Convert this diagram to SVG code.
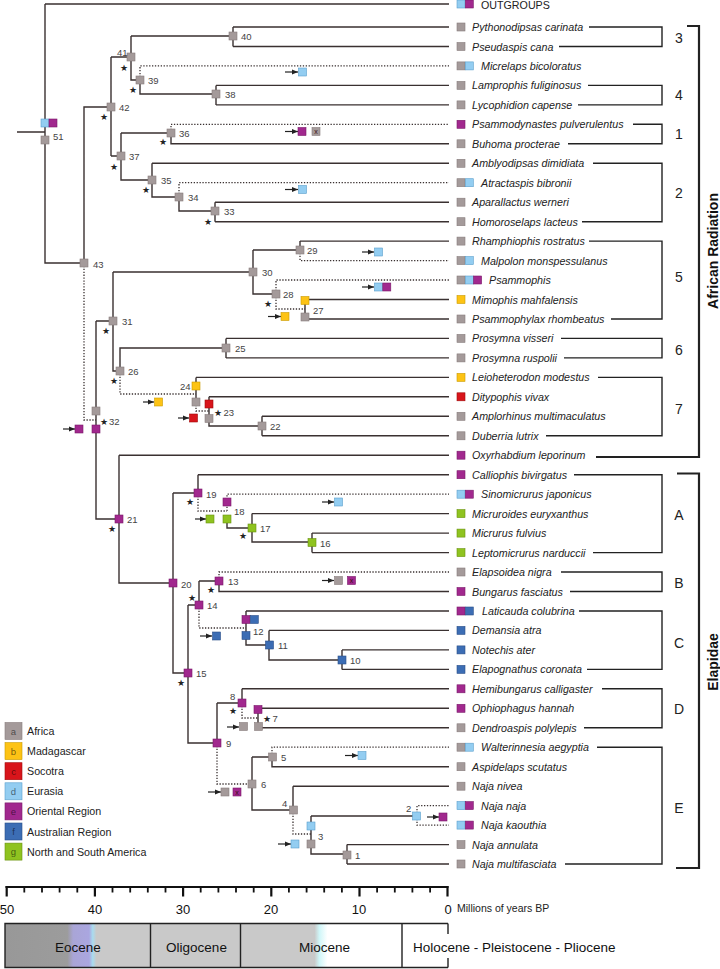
<svg xmlns="http://www.w3.org/2000/svg" width="720" height="969" viewBox="0 0 720 969">
<defs>
<style>
.l{fill:none;stroke:#3a3131;stroke-width:1.4}
.d{fill:none;stroke:#3a3131;stroke-width:1.3;stroke-dasharray:1.3 1.6}
.ar{fill:none;stroke:#222;stroke-width:1.2;marker-end:url(#ah)}
rect{stroke-width:0.6}
.a{fill:#a49a9a;stroke:#877c7c}
.b{fill:#fdc315;stroke:#c99a00}
.c{fill:#d8151b;stroke:#a00a0a}
.e1{fill:#93cdf1;stroke:#5a9fcc}
.e{fill:#a1288e;stroke:#7a1a6a}
.f{fill:#3c6db4;stroke:#2a4f88}
.g{fill:#8fc320;stroke:#6a9210}
.tx{font-family:"Liberation Sans",Arial,sans-serif;font-size:10.7px;font-style:italic;fill:#222}
.og{font-family:"Liberation Sans",Arial,sans-serif;font-size:10.7px;fill:#222}
.nl{font-family:"Liberation Sans",Arial,sans-serif;font-size:9.5px;fill:#444}
.st{font-family:"DejaVu Sans",sans-serif;font-size:9px;fill:#222;text-anchor:middle}
.xm{font-family:"Liberation Sans",Arial,sans-serif;font-size:7px;fill:#3a1010;text-anchor:middle}
.bk{fill:none;stroke:#222;stroke-width:1.4}
.bb{fill:none;stroke:#222;stroke-width:2.2}
.cl{font-family:"Liberation Sans",Arial,sans-serif;font-size:14px;fill:#222;text-anchor:middle}
.gl{font-family:"Liberation Sans",Arial,sans-serif;font-size:14px;font-weight:bold;fill:#111;text-anchor:middle}
.lg{font-family:"Liberation Sans",Arial,sans-serif;font-size:10.7px;fill:#222}
.ll{font-family:"Liberation Sans",Arial,sans-serif;font-size:9.5px;fill:#000;fill-opacity:0.55;text-anchor:middle}
.ax{font-family:"Liberation Sans",Arial,sans-serif;font-size:13px;fill:#111;text-anchor:middle}
.ep{font-family:"Liberation Sans",Arial,sans-serif;font-size:13.5px;fill:#111;text-anchor:middle}
</style>
<marker id="ah" viewBox="0 0 6 6" refX="6" refY="3" markerWidth="6" markerHeight="6" markerUnits="userSpaceOnUse" orient="auto"><path d="M0,0.5 L6,3 L0,5.5 z" fill="#222"/></marker>
<linearGradient id="eoc" gradientUnits="userSpaceOnUse" x1="5" y1="0" x2="150" y2="0">
<stop offset="0" stop-color="#989898"/><stop offset="0.43" stop-color="#9c9c9c"/><stop offset="0.47" stop-color="#a9a5d6"/><stop offset="0.58" stop-color="#aaa6e0"/><stop offset="0.605" stop-color="#a9dcef"/><stop offset="0.63" stop-color="#c9c9c9"/><stop offset="1" stop-color="#c9c9c9"/>
</linearGradient>
<linearGradient id="mio" gradientUnits="userSpaceOnUse" x1="240" y1="0" x2="402" y2="0">
<stop offset="0" stop-color="#c9c9c9"/><stop offset="0.46" stop-color="#c9c9c9"/><stop offset="0.49" stop-color="#cff6f8"/><stop offset="0.54" stop-color="#ffffff"/><stop offset="1" stop-color="#ffffff"/>
</linearGradient>
</defs>
<rect x="0" y="0" width="720" height="969" fill="#ffffff" stroke="none"/>

<g id="connectors">
<path class="l" d="M17 132H45 M45 4V263H84 M45 4H449 M84 263V107H111 M111 57V156 M111 57H131 M131 36V80H140 M131 36H233 M233 27V46.5 M233 27H449 M233 46.5H449 M140 80V94H216 M216 85.4V104.9 M216 85.4H449 M216 104.9H449 M111 156H121 M121 133V180H152 M121 133H171 M171 133V143.8H449 M152 163.3V197H179 M152 163.3H449 M179 197V211H215 M215 202.2V221.7 M215 202.2H449 M215 221.7H449 M96 321V519H119 M96 321H113 M113 272V371H120 M113 272H253 M253 250V294H276 M253 250H300 M300 241.1V250 M300 241.1H449 M305 299.5V319 M305 299.5H449 M305 319H449 M120 371V348H226 M226 338.4V357.9 M226 338.4H449 M226 357.9H449 M196 377.4V402 M196 377.4H449 M209 396.8V426H262 M209 396.8H449 M262 416.3V435.8 M262 416.3H449 M262 435.8H449 M119 455.2V583H173 M119 455.2H449 M173 493V673H188 M173 493H198 M198 474.7V493 M198 474.7H449 M227 519V528H252 M252 513.6V542H312 M252 513.6H449 M312 533.1V552.6 M312 533.1H449 M312 552.6H449 M188 605V743H217 M188 605H199 M199 581V605 M199 581H219 M219 581V591.5H449 M246 611V645H269 M246 611H449 M269 630.4V660H342 M269 630.4H449 M342 649.9V669.4 M342 649.9H449 M342 669.4H449 M217 703V743 M217 703H242 M242 688.8V703 M242 688.8H449 M258 708.3V727.8 M258 708.3H449 M258 727.8H449 M252 757V810H293 M252 757H272 M272 757V766.7H449 M293 786.2V810 M293 786.2H449 M311 816V854H347 M311 816H417 M347 844.6V864 M347 844.6H449 M347 864H449"/>
<path class="d" d="M84 263V420H96 M140 80V65.9H449 M171 133V124.3H449 M179 197V182.7H449 M300 250V260.6H449 M276 294V280H449 M276 294V309H305 M120 371V394H196 M196 402V411H209 M198 493V511H227 M227 511V494.2H449 M219 581V572H449 M199 605V628H246 M217 743V784H252 M242 703V718H258 M272 757V747.2H449 M293 810V834H311 M417 816V805.6H449 M417 816V825.1H449"/>
</g>

<g id="tips">
<g id="t-outgroups"><rect class="e1" x="457" y="0" width="8" height="8"/><rect class="e" x="465.3" y="0" width="8" height="8"/><text class="og" x="481" y="9">OUTGROUPS</text></g>
<g id="t-pythonodipsas"><rect class="a" x="457" y="23" width="8" height="8"/><text class="tx" x="472" y="31">Pythonodipsas carinata</text></g>
<g id="t-pseudaspis"><rect class="a" x="457" y="42.5" width="8" height="8"/><text class="tx" x="472" y="50.5">Pseudaspis cana</text></g>
<g id="t-micrelaps"><rect class="a" x="457" y="61.9" width="8" height="8"/><rect class="e1" x="465.3" y="61.9" width="8" height="8"/><text class="tx" x="481" y="69.9">Micrelaps bicoloratus</text></g>
<g id="t-lamprophis"><rect class="a" x="457" y="81.4" width="8" height="8"/><text class="tx" x="472" y="89.4">Lamprophis fuliginosus</text></g>
<g id="t-lycophidion"><rect class="a" x="457" y="100.9" width="8" height="8"/><text class="tx" x="472" y="108.9">Lycophidion capense</text></g>
<g id="t-psammodynastes"><rect class="e" x="457" y="120.3" width="8" height="8"/><text class="tx" x="472" y="128.3">Psammodynastes pulverulentus</text></g>
<g id="t-buhoma"><rect class="a" x="457" y="139.8" width="8" height="8"/><text class="tx" x="472" y="147.8">Buhoma procterae</text></g>
<g id="t-amblyodipsas"><rect class="a" x="457" y="159.3" width="8" height="8"/><text class="tx" x="472" y="167.3">Amblyodipsas dimidiata</text></g>
<g id="t-atractaspis"><rect class="a" x="457" y="178.7" width="8" height="8"/><rect class="e1" x="465.3" y="178.7" width="8" height="8"/><text class="tx" x="481" y="186.7">Atractaspis bibronii</text></g>
<g id="t-aparallactus"><rect class="a" x="457" y="198.2" width="8" height="8"/><text class="tx" x="472" y="206.2">Aparallactus werneri</text></g>
<g id="t-homoroselaps"><rect class="a" x="457" y="217.7" width="8" height="8"/><text class="tx" x="472" y="225.7">Homoroselaps lacteus</text></g>
<g id="t-rhamphiophis"><rect class="a" x="457" y="237.1" width="8" height="8"/><text class="tx" x="472" y="245.1">Rhamphiophis rostratus</text></g>
<g id="t-malpolon"><rect class="a" x="457" y="256.6" width="8" height="8"/><rect class="e1" x="465.3" y="256.6" width="8" height="8"/><text class="tx" x="481" y="264.6">Malpolon monspessulanus</text></g>
<g id="t-psammophis"><rect class="a" x="457" y="276" width="8" height="8"/><rect class="e1" x="465.3" y="276" width="8" height="8"/><rect class="e" x="473.6" y="276" width="8" height="8"/><text class="tx" x="489" y="284">Psammophis</text></g>
<g id="t-mimophis"><rect class="b" x="457" y="295.5" width="8" height="8"/><text class="tx" x="472" y="303.5">Mimophis mahfalensis</text></g>
<g id="t-psammophylax"><rect class="a" x="457" y="315" width="8" height="8"/><text class="tx" x="472" y="323">Psammophylax rhombeatus</text></g>
<g id="t-prosymna-v"><rect class="a" x="457" y="334.4" width="8" height="8"/><text class="tx" x="472" y="342.4">Prosymna visseri</text></g>
<g id="t-prosymna-r"><rect class="a" x="457" y="353.9" width="8" height="8"/><text class="tx" x="472" y="361.9">Prosymna ruspolii</text></g>
<g id="t-leioheterodon"><rect class="b" x="457" y="373.4" width="8" height="8"/><text class="tx" x="472" y="381.4">Leioheterodon modestus</text></g>
<g id="t-ditypophis"><rect class="c" x="457" y="392.8" width="8" height="8"/><text class="tx" x="472" y="400.8">Ditypophis vivax</text></g>
<g id="t-amplorhinus"><rect class="a" x="457" y="412.3" width="8" height="8"/><text class="tx" x="472" y="420.3">Amplorhinus multimaculatus</text></g>
<g id="t-duberria"><rect class="a" x="457" y="431.8" width="8" height="8"/><text class="tx" x="472" y="439.8">Duberria lutrix</text></g>
<g id="t-oxyrhabdium"><rect class="e" x="457" y="451.2" width="8" height="8"/><text class="tx" x="472" y="459.2">Oxyrhabdium leporinum</text></g>
<g id="t-calliophis"><rect class="e" x="457" y="470.7" width="8" height="8"/><text class="tx" x="472" y="478.7">Calliophis bivirgatus</text></g>
<g id="t-sinomicrurus"><rect class="e1" x="457" y="490.2" width="8" height="8"/><rect class="e" x="465.3" y="490.2" width="8" height="8"/><text class="tx" x="481" y="498.2">Sinomicrurus japonicus</text></g>
<g id="t-micruroides"><rect class="g" x="457" y="509.6" width="8" height="8"/><text class="tx" x="472" y="517.6">Micruroides euryxanthus</text></g>
<g id="t-micrurus"><rect class="g" x="457" y="529.1" width="8" height="8"/><text class="tx" x="472" y="537.1">Micrurus fulvius</text></g>
<g id="t-leptomicrurus"><rect class="g" x="457" y="548.6" width="8" height="8"/><text class="tx" x="472" y="556.6">Leptomicrurus narduccii</text></g>
<g id="t-elapsoidea"><rect class="a" x="457" y="568" width="8" height="8"/><text class="tx" x="472" y="576">Elapsoidea nigra</text></g>
<g id="t-bungarus"><rect class="e" x="457" y="587.5" width="8" height="8"/><text class="tx" x="472" y="595.5">Bungarus fasciatus</text></g>
<g id="t-laticauda"><rect class="e" x="457" y="607" width="8" height="8"/><rect class="f" x="465.3" y="607" width="8" height="8"/><text class="tx" x="482" y="615">Laticauda colubrina</text></g>
<g id="t-demansia"><rect class="f" x="457" y="626.4" width="8" height="8"/><text class="tx" x="472" y="634.4">Demansia atra</text></g>
<g id="t-notechis"><rect class="f" x="457" y="645.9" width="8" height="8"/><text class="tx" x="472" y="653.9">Notechis ater</text></g>
<g id="t-elapognathus"><rect class="f" x="457" y="665.4" width="8" height="8"/><text class="tx" x="472" y="673.4">Elapognathus coronata</text></g>
<g id="t-hemibungarus"><rect class="e" x="457" y="684.8" width="8" height="8"/><text class="tx" x="472" y="692.8">Hemibungarus calligaster</text></g>
<g id="t-ophiophagus"><rect class="e" x="457" y="704.3" width="8" height="8"/><text class="tx" x="472" y="712.3">Ophiophagus hannah</text></g>
<g id="t-dendroaspis"><rect class="a" x="457" y="723.8" width="8" height="8"/><text class="tx" x="472" y="731.8">Dendroaspis polylepis</text></g>
<g id="t-walterinnesia"><rect class="a" x="457" y="743.2" width="8" height="8"/><rect class="e1" x="465.3" y="743.2" width="8" height="8"/><text class="tx" x="481" y="751.2">Walterinnesia aegyptia</text></g>
<g id="t-aspidelaps"><rect class="a" x="457" y="762.7" width="8" height="8"/><text class="tx" x="472" y="770.7">Aspidelaps scutatus</text></g>
<g id="t-naja-nivea"><rect class="a" x="457" y="782.2" width="8" height="8"/><text class="tx" x="472" y="790.2">Naja nivea</text></g>
<g id="t-naja-naja"><rect class="e1" x="457" y="801.6" width="8" height="8"/><rect class="e" x="465.3" y="801.6" width="8" height="8"/><text class="tx" x="481" y="809.6">Naja naja</text></g>
<g id="t-naja-kaouthia"><rect class="e1" x="457" y="821.1" width="8" height="8"/><rect class="e" x="465.3" y="821.1" width="8" height="8"/><text class="tx" x="481" y="829.1">Naja kaouthia</text></g>
<g id="t-naja-annulata"><rect class="a" x="457" y="840.6" width="8" height="8"/><text class="tx" x="472" y="848.6">Naja annulata</text></g>
<g id="t-naja-multifasciata"><rect class="a" x="457" y="860" width="8" height="8"/><text class="tx" x="472" y="868">Naja multifasciata</text></g>
</g>

<g id="nodes">
<g id="n51"><rect class="e1" x="41" y="119" width="8" height="8"/><rect class="e" x="49" y="119" width="8" height="8"/><rect class="a" x="41" y="136" width="8" height="8"/><text class="nl" x="53" y="139.5">51</text></g>
<g id="n43"><rect class="a" x="80" y="259" width="8" height="8"/><text class="nl" x="93" y="268">43</text></g>
<g id="n42"><rect class="a" x="107" y="103" width="8" height="8"/><text class="nl" x="119" y="111">42</text><text class="st" x="104" y="119.5">★</text></g>
<g id="n41"><rect class="a" x="127" y="53" width="8" height="8"/><text class="nl" x="117" y="55.5">41</text><text class="st" x="124" y="70.5">★</text></g>
<g id="n40"><rect class="a" x="229" y="32" width="8" height="8"/><text class="nl" x="241" y="40">40</text></g>
<g id="n39"><rect class="a" x="136" y="76" width="8" height="8"/><text class="nl" x="148" y="84">39</text><text class="st" x="133" y="92.5">★</text><path class="ar" d="M285 72H298"/><rect class="e1" x="298.5" y="68" width="8" height="8"/></g>
<g id="n38"><rect class="a" x="212" y="90" width="8" height="8"/><text class="nl" x="225" y="98">38</text></g>
<g id="n37"><rect class="a" x="117" y="152" width="8" height="8"/><text class="nl" x="129" y="160">37</text><text class="st" x="114" y="169.5">★</text></g>
<g id="n36"><rect class="a" x="167" y="129" width="8" height="8"/><text class="nl" x="179" y="137">36</text><text class="st" x="163" y="144.5">★</text><path class="ar" d="M285 131.5H298"/><rect class="e" x="298" y="127.5" width="8" height="8"/><rect class="a" x="312" y="127.5" width="8" height="8"/><text class="xm" x="316" y="134">x</text></g>
<g id="n35"><rect class="a" x="148" y="176" width="8" height="8"/><text class="nl" x="161" y="184">35</text><text class="st" x="146" y="192.5">★</text></g>
<g id="n34"><rect class="a" x="175" y="193" width="8" height="8"/><text class="nl" x="188" y="201">34</text><path class="ar" d="M285 189.5H298"/><rect class="e1" x="298.5" y="185.5" width="8" height="8"/></g>
<g id="n33"><rect class="a" x="211" y="207" width="8" height="8"/><text class="nl" x="224" y="215">33</text><text class="st" x="208" y="224.5">★</text></g>
<g id="n32"><rect class="a" x="92" y="407" width="8" height="8"/><rect class="e" x="92" y="425" width="8" height="8"/><text class="st" x="104" y="424.5">★</text><text class="nl" x="109" y="424.5">32</text><path class="ar" d="M63 429H75"/><rect class="e" x="75" y="425" width="8" height="8"/></g>
<g id="n31"><rect class="a" x="109" y="317" width="8" height="8"/><text class="nl" x="122" y="325">31</text><text class="st" x="106" y="333.5">★</text></g>
<g id="n30"><rect class="a" x="249" y="268" width="8" height="8"/><text class="nl" x="262" y="276">30</text></g>
<g id="n29"><rect class="a" x="296" y="246" width="8" height="8"/><text class="nl" x="307" y="254">29</text><path class="ar" d="M362 252H374"/><rect class="e1" x="374.5" y="248" width="8" height="8"/></g>
<g id="n28"><rect class="a" x="272" y="290" width="8" height="8"/><text class="nl" x="283" y="297.5">28</text><text class="st" x="268" y="306.5">★</text><path class="ar" d="M362 287H374"/><rect class="e1" x="374.5" y="283" width="8" height="8"/><rect class="e" x="382.8" y="283" width="8" height="8"/><path class="ar" d="M268 316.5H281"/><rect class="b" x="281" y="312.5" width="8" height="8"/></g>
<g id="n27"><rect class="b" x="301" y="296.5" width="8" height="8"/><rect class="a" x="301" y="313" width="8" height="8"/><text class="nl" x="313" y="313.5">27</text></g>
<g id="n26"><rect class="a" x="116" y="367" width="8" height="8"/><text class="nl" x="128" y="375">26</text><text class="st" x="114" y="383.5">★</text></g>
<g id="n25"><rect class="a" x="222" y="344" width="8" height="8"/><text class="nl" x="235" y="352">25</text></g>
<g id="n24"><rect class="b" x="192" y="382" width="8" height="8"/><rect class="a" x="192" y="398" width="8" height="8"/><text class="nl" x="180" y="390">24</text><path class="ar" d="M143 402H154"/><rect class="b" x="154.5" y="398" width="8" height="8"/></g>
<g id="n23"><rect class="c" x="205" y="400" width="8" height="8"/><rect class="a" x="205" y="414.5" width="8" height="8"/><text class="st" x="218" y="415.5">★</text><text class="nl" x="223.5" y="415.5">23</text><path class="ar" d="M178 418H189"/><rect class="c" x="189.5" y="414" width="8" height="8"/></g>
<g id="n22"><rect class="a" x="258" y="422" width="8" height="8"/><text class="nl" x="270" y="430">22</text></g>
<g id="n21"><rect class="e" x="115" y="515" width="8" height="8"/><text class="nl" x="127" y="523">21</text><text class="st" x="112" y="531.5">★</text></g>
<g id="n20"><rect class="e" x="169" y="579" width="8" height="8"/><text class="nl" x="181" y="587.5">20</text></g>
<g id="n19"><rect class="e" x="194" y="489" width="8" height="8"/><text class="nl" x="206" y="497.5">19</text><text class="st" x="190" y="504.5">★</text></g>
<g id="n18"><rect class="e" x="223" y="498" width="8" height="8"/><rect class="g" x="223" y="515" width="8" height="8"/><text class="nl" x="234" y="515">18</text><path class="ar" d="M195 519H206"/><rect class="g" x="206" y="515" width="8" height="8"/><path class="ar" d="M322 502H334"/><rect class="e1" x="334.5" y="498" width="8" height="8"/></g>
<g id="n17"><rect class="g" x="248" y="524" width="8" height="8"/><text class="nl" x="260" y="531.5">17</text><text class="st" x="243" y="539">★</text></g>
<g id="n16"><rect class="g" x="308" y="538.5" width="8" height="8"/><text class="nl" x="320" y="546.5">16</text></g>
<g id="n15"><rect class="e" x="184" y="669" width="8" height="8"/><text class="nl" x="196" y="677">15</text><text class="st" x="181" y="685.5">★</text></g>
<g id="n14"><rect class="e" x="195" y="601" width="8" height="8"/><text class="nl" x="207" y="609">14</text><text class="st" x="192" y="600.5">★</text><path class="ar" d="M200 636H212"/><rect class="f" x="212.5" y="632" width="8" height="8"/></g>
<g id="n13"><rect class="e" x="215" y="577" width="8" height="8"/><text class="nl" x="228" y="585">13</text><text class="st" x="211" y="592.5">★</text><path class="ar" d="M322 580.5H334"/><rect class="a" x="334.5" y="576.5" width="8" height="8"/><rect class="e" x="347.5" y="576.5" width="8" height="8"/><text class="xm" x="351.5" y="583">x</text></g>
<g id="n12"><rect class="e" x="242" y="615.5" width="8" height="8"/><rect class="f" x="250.3" y="615.5" width="8" height="8"/><rect class="f" x="242" y="631.5" width="8" height="8"/><text class="nl" x="253" y="634.5">12</text></g>
<g id="n11"><rect class="f" x="265.5" y="641" width="8" height="8"/><text class="nl" x="278" y="649">11</text></g>
<g id="n10"><rect class="f" x="338" y="656" width="8" height="8"/><text class="nl" x="350" y="664">10</text></g>
<g id="n9"><rect class="e" x="213" y="739" width="8" height="8"/><text class="nl" x="226" y="747">9</text><path class="ar" d="M208 792H221"/><rect class="a" x="221" y="788" width="8" height="8"/><rect class="e" x="233" y="788" width="8" height="8"/><text class="xm" x="237" y="794.5">x</text></g>
<g id="n8"><rect class="e" x="238" y="699" width="8" height="8"/><text class="nl" x="230" y="700">8</text><text class="st" x="233" y="713.5">★</text><path class="ar" d="M227 727H239"/><rect class="a" x="239.5" y="722.5" width="8" height="8"/></g>
<g id="n7"><rect class="e" x="254" y="705.5" width="8" height="8"/><rect class="a" x="254.5" y="722.5" width="8" height="8"/><text class="st" x="267" y="721.5">★</text><text class="nl" x="272.5" y="721.5">7</text></g>
<g id="n6"><rect class="a" x="248" y="780" width="8" height="8"/><text class="nl" x="261" y="788">6</text></g>
<g id="n5"><rect class="a" x="268.5" y="753" width="8" height="8"/><text class="nl" x="281" y="761">5</text><path class="ar" d="M345 755.5H358"/><rect class="e1" x="358" y="751.5" width="8" height="8"/></g>
<g id="n4"><rect class="a" x="289.5" y="806" width="8" height="8"/><text class="nl" x="282" y="806.5">4</text><path class="ar" d="M278 844H291"/><rect class="e1" x="291" y="840" width="8" height="8"/></g>
<g id="n3"><rect class="e1" x="307" y="822" width="8" height="8"/><rect class="a" x="307" y="840" width="8" height="8"/><text class="nl" x="318" y="839.5">3</text></g>
<g id="n2"><rect class="e1" x="412.5" y="812" width="8" height="8"/><text class="nl" x="406" y="811.5">2</text><path class="ar" d="M427 817H439"/><rect class="e" x="439" y="813" width="8" height="8"/></g>
<g id="n1"><rect class="a" x="343" y="851" width="8" height="8"/><text class="nl" x="355" y="858.5">1</text></g>
</g>

<g id="brackets">
<path class="bk" d="M589 27H662V46.5H559 M588 85.4H662V104.9H578 M633 124.3H662V143.8H568 M593 163.3H662V221.7H582 M589 241.1H662V319H611 M561 338.4H662V357.9H564 M598 377.4H662V435.8H546 M574 474.7H662V552.6H593 M561 572H662V591.5H570 M579 611H662V669.4H587 M602 688.8H662V727.8H584 M597 747.2H662V864H565"/>
<path class="bb" d="M687 26H699V457H596 M677 473.5H699V868H676"/>
<text class="cl" x="679" y="43">3</text>
<text class="cl" x="679" y="100">4</text>
<text class="cl" x="679" y="139">1</text>
<text class="cl" x="679" y="198">2</text>
<text class="cl" x="679" y="282">5</text>
<text class="cl" x="679" y="355">6</text>
<text class="cl" x="679" y="414">7</text>
<text class="cl" x="679" y="520">A</text>
<text class="cl" x="679" y="588">B</text>
<text class="cl" x="679" y="648">C</text>
<text class="cl" x="679" y="714">D</text>
<text class="cl" x="679" y="813">E</text>
<text class="gl" transform="translate(718 251) rotate(-90)">African Radiation</text>
<text class="gl" transform="translate(718 662) rotate(-90)">Elapidae</text>
</g>

<g id="legend">
<rect class="a" x="5" y="722.5" width="17" height="17"/><text class="ll" x="13.5" y="734.5">a</text><text class="lg" x="27" y="735">Africa</text>
<rect class="b" x="5" y="742.6" width="17" height="17"/><text class="ll" x="13.5" y="754.6">b</text><text class="lg" x="27" y="755.1">Madagascar</text>
<rect class="c" x="5" y="762.7" width="17" height="17"/><text class="ll" x="13.5" y="774.7">c</text><text class="lg" x="27" y="775.2">Socotra</text>
<rect class="e1" x="5" y="782.8" width="17" height="17"/><text class="ll" x="13.5" y="794.8">d</text><text class="lg" x="27" y="795.3">Eurasia</text>
<rect class="e" x="5" y="802.9" width="17" height="17"/><text class="ll" x="13.5" y="814.9">e</text><text class="lg" x="27" y="815.4">Oriental Region</text>
<rect class="f" x="5" y="823" width="17" height="17"/><text class="ll" x="13.5" y="835">f</text><text class="lg" x="27" y="835.5">Australian Region</text>
<rect class="g" x="5" y="843.1" width="17" height="17"/><text class="ll" x="13.5" y="855.1">g</text><text class="lg" x="27" y="855.6">North and South America</text>
</g>

<g id="axis">
<path fill="none" stroke="#111" stroke-width="2" d="M5.5 887H448.5"/>
<path fill="none" stroke="#111" stroke-width="2.2" d="M6.7 886V896.5 M94.9 886V896.5 M183.1 886V896.5 M271.3 886V896.5 M359.5 886V896.5 M447.5 886V896.5"/>
<path fill="none" stroke="#111" stroke-width="1.8" d="M24.3 887V892.5 M42 887V892.5 M59.6 887V892.5 M77.3 887V892.5 M112.5 887V892.5 M130.2 887V892.5 M147.8 887V892.5 M165.5 887V892.5 M200.7 887V892.5 M218.4 887V892.5 M236 887V892.5 M253.7 887V892.5 M288.9 887V892.5 M306.6 887V892.5 M324.2 887V892.5 M341.9 887V892.5 M377.1 887V892.5 M394.8 887V892.5 M412.4 887V892.5 M430.1 887V892.5"/>
<text class="ax" x="7" y="913.5">50</text>
<text class="ax" x="95" y="913.5">40</text>
<text class="ax" x="183" y="913.5">30</text>
<text class="ax" x="271" y="913.5">20</text>
<text class="ax" x="359" y="913.5">10</text>
<text class="ax" x="448" y="913.5">0</text>
<text class="lg" x="457" y="912" style="font-size:10.5px">Millions of years BP</text>
</g>

<g id="epochs">
<rect x="5" y="923.5" width="145.5" height="44" fill="url(#eoc)" stroke="none"/>
<rect x="150.5" y="923.5" width="90" height="44" fill="#c9c9c9" stroke="none"/>
<rect x="240.5" y="923.5" width="161.5" height="44" fill="url(#mio)" stroke="none"/>
<path fill="none" stroke="#222" stroke-width="1.4" d="M448 923.5H5V967.5H448 M448 923.5V934 M448 958V967.5 M150.5 923.5V967.5 M240.5 923.5V967.5 M402 923.5V967.5"/>
<text class="ep" x="78" y="951.5">Eocene</text>
<text class="ep" x="196.5" y="951.5">Oligocene</text>
<text class="ep" x="324.5" y="951.5">Miocene</text>
<text class="ep" x="413" y="951.5" style="text-anchor:start">Holocene - Pleistocene - Pliocene</text>
</g>
</svg>
